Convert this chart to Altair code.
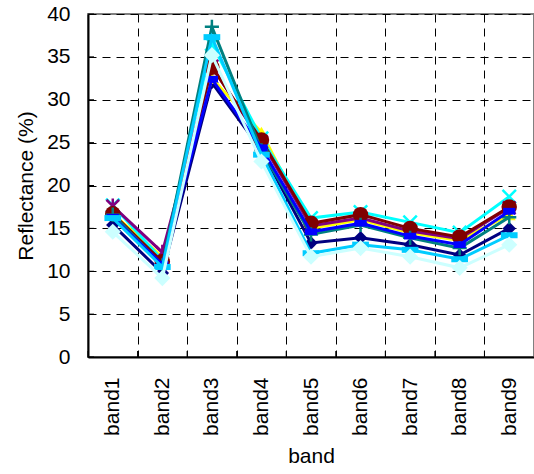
import altair as alt
import pandas as pd

bands = ["band1", "band2", "band3", "band4", "band5", "band6", "band7", "band8", "band9"]

s_navy = [15.4, 9.8, 32.0, 24.1, 13.3, 13.9, 13.1, 11.9, 15.0]
s_yellow = [16.7, 11.7, 32.5, 26.2, 15.0, 16.0, 14.5, 13.6, 16.6]
s_cyan = [17.7, 11.3, 36.5, 25.5, 16.2, 16.9, 15.7, 14.5, 18.7]
s_purple = [17.6, 12.2, 33.9, 25.1, 15.3, 16.2, 14.7, 13.8, 17.4]
s_maroon = [16.7, 11.1, 33.8, 25.3, 15.6, 16.6, 15.0, 14.0, 17.5]
s_teal = [16.6, 10.7, 38.5, 24.1, 14.3, 15.4, 13.9, 12.7, 16.3]
s_blue = [16.3, 10.8, 32.4, 24.4, 14.6, 15.6, 14.1, 13.1, 17.0]
s_sky = [16.2, 10.5, 37.3, 23.6, 12.1, 13.1, 12.5, 11.4, 14.2]
s_light = [14.6, 9.2, 35.2, 22.8, 11.7, 12.7, 11.7, 10.4, 13.1]

y_ticks = [0, 5, 10, 15, 20, 25, 30, 35, 40]

X_PATH = "M-1,-1L1,1M1,-1L-1,1"
STAR_PATH = "M-1,-1L1,1M1,-1L-1,1M0,-1.2L0,1.2"
PLUS_PATH = "M-1,0L1,0M0,-1L0,1"
SHORT_DASH = "M-1,-0.55L1,-0.55L1,0.55L-1,0.55Z"
LONG_DASH = "M-1,-0.36L1,-0.36L1,0.36L-1,0.36Z"

# (values, colour, shape, size, filled)
series = [
    (s_navy, "#000080", "diamond", 180, True),
    (s_yellow, "#FFFF00", "triangle-up", 170, True),
    (s_cyan, "#00FFFF", X_PATH, 180, False),
    (s_purple, "#800080", STAR_PATH, 160, False),
    (s_maroon, "#800000", "circle", 240, True),
    (s_teal, "#008080", PLUS_PATH, 200, False),
    (s_blue, "#0000FF", SHORT_DASH, 150, True),
    (s_sky, "#00CCFF", LONG_DASH, 280, True),
    (s_light, "#CCFFFF", "diamond", 260, True),
]

FONT = "Liberation Sans"
FS = 21

x_scale = alt.Scale(type="band", domain=bands, paddingInner=0, paddingOuter=0)
x_axis = alt.Axis(
    title="band",
    labelAngle=270,
    labelAlign="right",
    labelBaseline="middle",
    labelPadding=20,
    labelFontSize=FS,
    labelFont=FONT,
    labelColor="black",
    titleFontSize=FS,
    titleFont=FONT,
    titleFontWeight="normal",
    titleColor="black",
    titlePadding=10,
    ticks=False,
    tickBand="extent",
    grid=True,
    gridColor="black",
    gridDash=[8, 6],
    gridWidth=1,
    domainColor="black",
    domainWidth=2,
)

y_scale = alt.Scale(domain=[0, 40], nice=False)
y_axis = alt.Axis(
    title="Reflectance (%)",
    values=y_ticks,
    labelFontSize=FS,
    labelFont=FONT,
    labelColor="black",
    labelPadding=18,
    ticks=False,
    titleFontSize=FS,
    titleFont=FONT,
    titleFontWeight="normal",
    titleColor="black",
    titlePadding=10,
    grid=True,
    gridColor="black",
    gridDash=[8, 6],
    gridWidth=1,
    domainColor="black",
    domainWidth=2,
)


def xe(**kw):
    return alt.X("band:N", sort=bands, scale=x_scale, axis=x_axis, **kw)


def ye():
    return alt.Y("value:Q", scale=y_scale, axis=y_axis)


layers = []
for vals, color, shape, size, filled in series:
    df = pd.DataFrame({"band": bands, "value": vals})
    base = alt.Chart(df).encode(x=xe(), y=ye())
    line = base.mark_line(color=color, strokeWidth=3)
    if filled:
        pts = base.mark_point(shape=shape, size=size, filled=True, color=color, opacity=1)
    else:
        pts = base.mark_point(shape=shape, size=size, filled=False, color=color,
                              strokeWidth=2.5, opacity=1)
    layers += [line, pts]

# inward tick marks on the value axis
tick_df = pd.DataFrame({"value": y_ticks})
y_tick_marks = alt.Chart(tick_df).mark_rule(color="black", strokeWidth=1).encode(
    y=ye(),
    x=alt.value(0),
    x2=alt.value(6),
)

# inward tick marks at the category boundaries
band_df = pd.DataFrame({"band": bands})
x_tick_marks = alt.Chart(band_df).mark_rule(color="black", strokeWidth=1).encode(
    x=xe(bandPosition=0),
    y=alt.value(337),
    y2=alt.value(343),
)

chart = alt.layer(y_tick_marks, x_tick_marks, *layers).properties(
    width=446,
    height=343,
    autosize=alt.AutoSizeParams(type="none"),
    padding={"left": 88, "top": 14, "right": 0, "bottom": 117},
    background="white",
).configure_view(
    stroke="#808080",
    strokeWidth=2,
)

chart.save("out.html", embed_options={"renderer": "svg", "actions": False})
